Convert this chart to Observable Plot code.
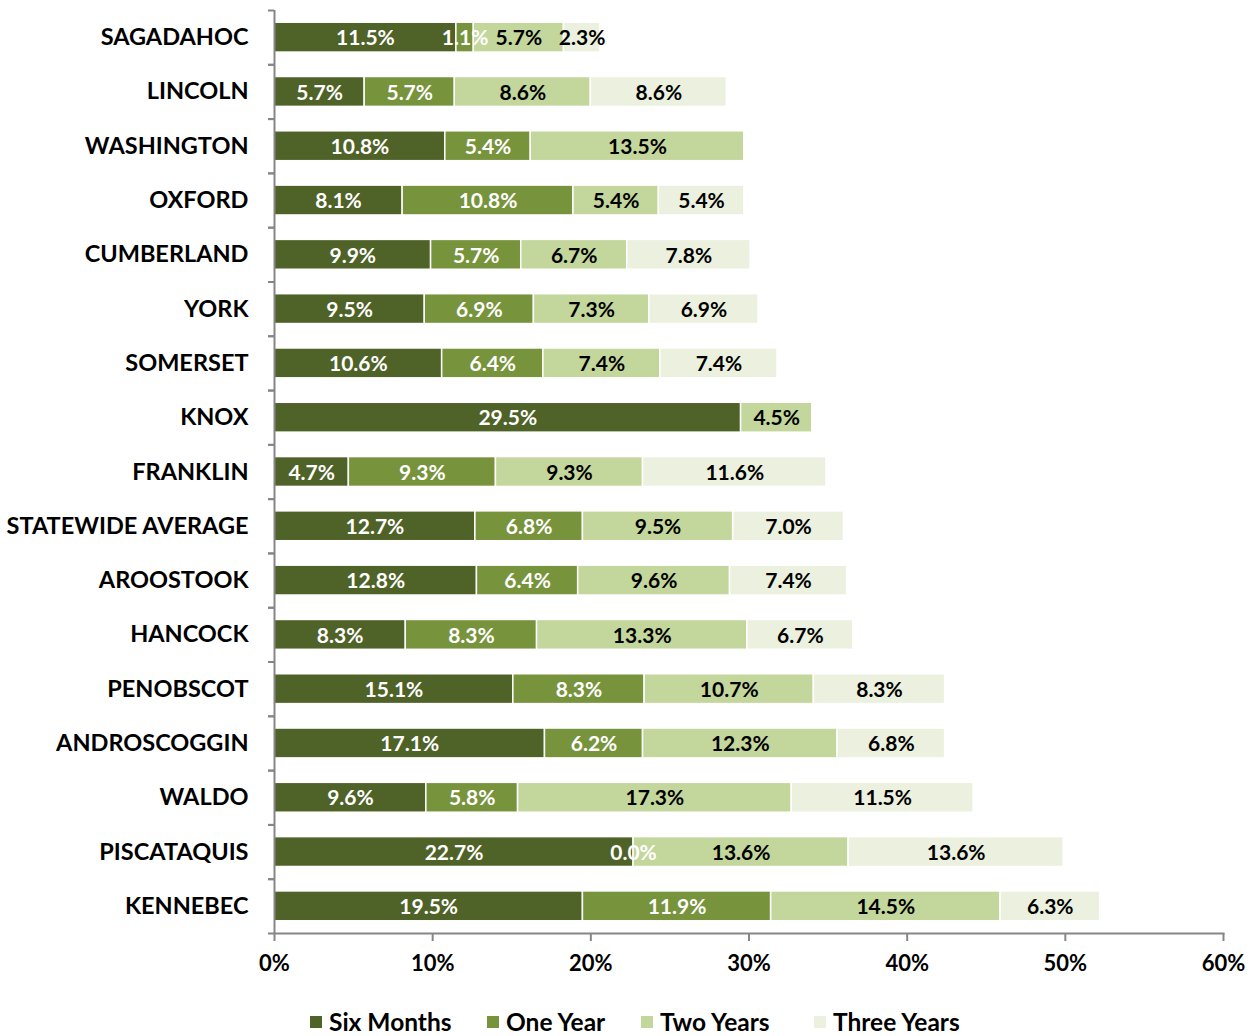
<!DOCTYPE html>
<html>
<head>
<meta charset="utf-8">
<script src="https://cdn.jsdelivr.net/npm/d3@7"></script>
<script src="https://cdn.jsdelivr.net/npm/@observablehq/plot@0.6"></script>
<style>
  body { margin: 0; background: #fff; font-family: Lato, "Open Sans", sans-serif; }
  #legend { position: relative; height: 38px; font-weight: 700; font-size: 24.5px; color: #000; }
  #legend .item { position: absolute; top: 9px; display: flex; align-items: center; gap: 7px; white-space: nowrap; }
  #legend .sw { width: 12px; height: 12px; display: inline-block; }
</style>
</head>
<body>
<div id="chart"></div>
<div id="legend"></div>
<script>
const counties = ["SAGADAHOC","LINCOLN","WASHINGTON","OXFORD","CUMBERLAND","YORK","SOMERSET","KNOX","FRANKLIN","STATEWIDE AVERAGE","AROOSTOOK","HANCOCK","PENOBSCOT","ANDROSCOGGIN","WALDO","PISCATAQUIS","KENNEBEC"];
const series = ["Six Months","One Year","Two Years","Three Years"];
const colors = ["#4F6228","#77933C","#C3D69B","#EBF1DE"];
const sixMonths  = [11.5, 5.7, 10.8, 8.1, 9.9, 9.5, 10.6, 29.5, 4.7, 12.7, 12.8, 8.3, 15.1, 17.1, 9.6, 22.7, 19.5];
const oneYear    = [1.1, 5.7, 5.4, 10.8, 5.7, 6.9, 6.4, null, 9.3, 6.8, 6.4, 8.3, 8.3, 6.2, 5.8, 0.0, 11.9];
const twoYears   = [5.7, 8.6, 13.5, 5.4, 6.7, 7.3, 7.4, 4.5, 9.3, 9.5, 9.6, 13.3, 10.7, 12.3, 17.3, 13.6, 14.5];
const threeYears = [2.3, 8.6, null, 5.4, 7.8, 6.9, 7.4, null, 11.6, 7.0, 7.4, 6.7, 8.3, 6.8, 11.5, 13.6, 6.3];
const xTicks = [0, 10, 20, 30, 40, 50, 60];
const legendLeft = [310, 487, 641, 814];

const seriesValues = [sixMonths, oneYear, twoYears, threeYears];
const data = [];
counties.forEach((c, i) => {
  series.forEach((s, j) => {
    const v = seriesValues[j][i];
    data.push({county: c, series: s, value: v == null ? 0 : v, present: v != null});
  });
});

const W = 1260, H = 998, mTop = 10, mBottom = H - 933, mLeft = 274, mRight = W - 1223;
const step = (H - mTop - mBottom) / counties.length;
const font = "Lato, 'Open Sans', sans-serif";
const grey = "#868686";
const darkSeries = new Set(["Six Months", "One Year"]);
const label = d => d.value.toFixed(1) + "%";

const stackOpts = {x: "value", y: "county", z: "series", order: null};
const plot = Plot.plot({
  width: W, height: H,
  marginTop: mTop, marginBottom: mBottom, marginLeft: mLeft, marginRight: mRight,
  style: {fontFamily: font, background: "white"},
  x: {domain: [0, 60]},
  y: {domain: counties, paddingInner: 0.45, paddingOuter: 0.225, round: false},
  color: {domain: series, range: colors},
  marks: [
    Plot.barX(data, Plot.stackX({...stackOpts, fill: "series", stroke: "white", strokeWidth: 1.5})),
    Plot.text(data, Plot.stackX({...stackOpts,
      text: d => (d.present && darkSeries.has(d.series)) ? label(d) : "", fill: "white", fontSize: 21, fontWeight: 700, dy: 1})),
    Plot.text(data, Plot.stackX({...stackOpts,
      text: d => (d.present && !darkSeries.has(d.series)) ? label(d) : "", fill: "black", fontSize: 21, fontWeight: 700, dy: 1})),
    Plot.ruleX([0], {stroke: grey, strokeWidth: 2}),
    Plot.frame({anchor: "bottom", stroke: grey, strokeWidth: 2}),
    Plot.axisX({ticks: xTicks, tickSize: 8, tickPadding: 14, stroke: grey, strokeWidth: 2,
      tickFormat: d => d + "%", fontSize: 22, fontWeight: 700, fill: "black", label: null}),
    Plot.axisY({tickSize: 0, tickPadding: 26, fontSize: 23.5, fontWeight: 700, fill: "black", label: null}),
    Plot.axisY({tickSize: 6, tickFormat: () => "", stroke: grey, strokeWidth: 2, dy: -step / 2, label: null}),
    Plot.axisY({tickSize: 6, tickFormat: () => "", stroke: grey, strokeWidth: 2, dy: step / 2, label: null})
  ]
});
document.getElementById("chart").appendChild(plot);

const legend = document.getElementById("legend");
series.forEach((s, i) => {
  const item = document.createElement("div");
  item.className = "item";
  item.style.left = legendLeft[i] + "px";
  const sw = document.createElement("span");
  sw.className = "sw";
  sw.style.background = colors[i];
  const t = document.createElement("span");
  t.textContent = s;
  item.appendChild(sw);
  item.appendChild(t);
  legend.appendChild(item);
});
</script>
</body>
</html>
